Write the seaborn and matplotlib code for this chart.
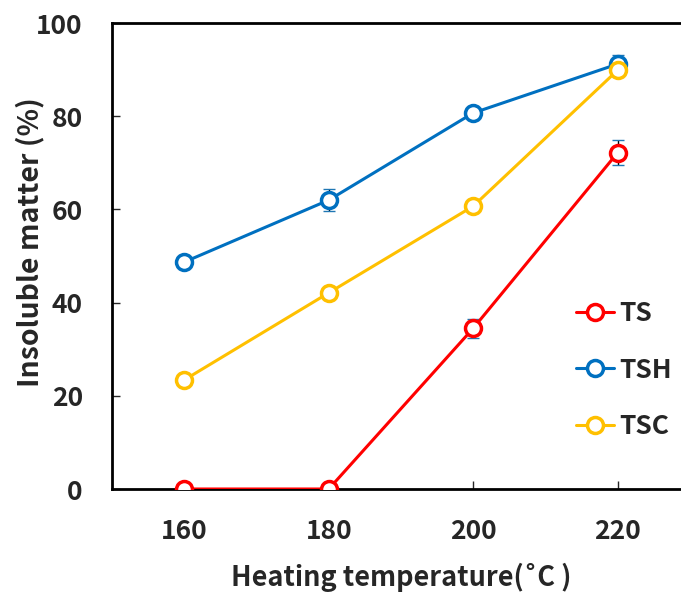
import pandas as pd
import seaborn as sns
import matplotlib.pyplot as plt
import numpy as np

temps = [160, 180, 200, 220]
ts = [0.0, 0.0, 34.5, 72.2]
tsh = [48.7, 62.0, 80.7, 91.2]
tsc = [23.4, 42.1, 60.7, 89.9]
ts_err = [0.3, 0.3, 2.0, 2.7]
tsh_err = [0.6, 2.4, 0.8, 2.0]
tsc_err = [0.6, 0.6, 0.6, 0.8]
names = ["TS", "TSH", "TSC"]

data = pd.DataFrame({
    "temp": temps * 3,
    "value": ts + tsh + tsc,
    "err": ts_err + tsh_err + tsc_err,
    "sample": [n for n in names for _ in temps],
})

sns.set_style("ticks")
plt.rcParams["font.family"] = ["Noto Sans CJK SC", "DejaVu Sans"]
plt.rcParams["font.weight"] = "bold"
my_pal = {"TS": "#FF0000", "TSH": "#0070C0", "TSC": "#FFC000"}

fig = plt.figure(figsize=(6.81, 5.96), dpi=100)
ax = fig.add_axes([112 / 681, 1 - 489 / 596, 578 / 681, 466 / 596])

for name in names:
    sub = data[data["sample"] == name]
    ax.errorbar(sub["temp"], sub["value"], yerr=sub["err"], fmt="none",
                ecolor="black", elinewidth=1, capsize=4, capthick=1, zorder=1)

sns.lineplot(data=data, x="temp", y="value", hue="sample", palette=my_pal,
             marker="o", markersize=11.5, markerfacecolor="white",
             markeredgewidth=2.5, linewidth=2.2, ax=ax, zorder=3)
for line in ax.get_lines():
    line.set_markeredgecolor(line.get_color())

ax.set_xlim(150, 230)
ax.set_ylim(0, 100)
ax.set_xticks([160, 180, 200, 220])
ax.set_yticks(np.arange(0, 101, 20))
ax.tick_params(direction="in", length=6, width=1, labelsize=19)
ax.tick_params(axis="y", pad=21)
ax.tick_params(axis="x", pad=21)
for lab in ax.get_xticklabels() + ax.get_yticklabels():
    lab.set_fontweight("bold")
for sp in ax.spines.values():
    sp.set_linewidth(2)
    sp.set_color("black")

ax.set_xlabel("Heating temperature(˚C )", fontsize=19.5, fontweight="bold")
ax.set_ylabel("Insoluble matter (%)", fontsize=20.5, fontweight="bold")
ax.xaxis.label.set_va("center")
ax.xaxis.set_label_coords(0.5, -(577 - 489) / 466)
ax.yaxis.set_label_coords(-(112 - 44) / 578, 0.53)

handles, labels = ax.get_legend_handles_labels()
for h in handles:
    h.set_markeredgecolor(h.get_color())
ax.legend(handles=handles, labels=labels, loc="upper left",
          bbox_to_anchor=(576 / 681, 1 - 300 / 596), bbox_transform=fig.transFigure,
          frameon=False, borderpad=0, borderaxespad=0,
          handlelength=1.45, handletextpad=0.2, labelspacing=1.12,
          prop={"family": ["Noto Sans CJK SC"], "weight": "bold", "size": 19})

fig.savefig("out.png", dpi=100)
